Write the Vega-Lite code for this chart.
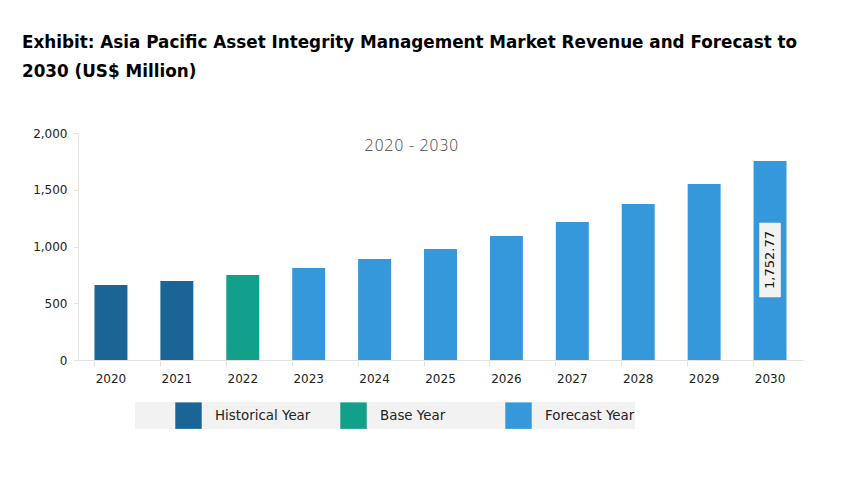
{
  "$schema": "https://vega.github.io/schema/vega-lite/v6.json",
  "width": 725,
  "height": 227,
  "autosize": {"type": "none"},
  "padding": {"left": 78, "top": 133, "right": 58, "bottom": 120},
  "background": "white",
  "title": {
    "text": ["Exhibit: Asia Pacific Asset Integrity Management Market Revenue and Forecast to", "2030 (US$ Million)"],
    "anchor": "start",
    "frame": "group",
    "dx": -56,
    "offset": 46,
    "font": "DejaVu Sans",
    "fontWeight": "bold",
    "fontSize": 16.8,
    "lineHeight": 29,
    "color": "#000000"
  },
  "config": {
    "view": {"stroke": null},
    "font": "DejaVu Sans"
  },
  "data": {
    "values": [
      {"year": "2020", "value": 661, "type": "Historical Year"},
      {"year": "2021", "value": 696, "type": "Historical Year"},
      {"year": "2022", "value": 749, "type": "Base Year"},
      {"year": "2023", "value": 811, "type": "Forecast Year"},
      {"year": "2024", "value": 890, "type": "Forecast Year"},
      {"year": "2025", "value": 978, "type": "Forecast Year"},
      {"year": "2026", "value": 1092, "type": "Forecast Year"},
      {"year": "2027", "value": 1216, "type": "Forecast Year"},
      {"year": "2028", "value": 1374, "type": "Forecast Year"},
      {"year": "2029", "value": 1551, "type": "Forecast Year"},
      {"year": "2030", "value": 1752.77, "type": "Forecast Year"}
    ]
  },
  "encoding": {
    "x": {
      "field": "year",
      "type": "nominal",
      "scale": {"paddingInner": 0.5, "paddingOuter": 0.25},
      "axis": {
        "title": null,
        "labelAngle": 0,
        "labelFont": "DejaVu Sans",
        "labelFontSize": 12,
        "labelColor": "#222222",
        "labelPadding": 7,
        "domainColor": "#e3e3e3",
        "tickColor": "#e3e3e3",
        "tickSize": 6,
        "bandPosition": 0,
        "grid": false
      }
    }
  },
  "layer": [
    {
      "mark": {"type": "bar"},
      "encoding": {
        "y": {
          "field": "value",
          "type": "quantitative",
          "scale": {"domain": [0, 2000]},
          "axis": {
            "title": null,
            "values": [0, 500, 1000, 1500, 2000],
            "format": ",.0f",
            "grid": false,
            "labelFont": "DejaVu Sans",
            "labelFontSize": 12,
            "labelColor": "#222222",
            "labelPadding": 6,
            "domainColor": "#e3e3e3",
            "tickColor": "#e3e3e3",
            "tickSize": 5
          }
        },
        "color": {
          "field": "type",
          "type": "nominal",
          "scale": {
            "domain": ["Historical Year", "Base Year", "Forecast Year"],
            "range": ["#1a6496", "#13a08b", "#3498db"]
          },
          "legend": {
            "title": " ",
            "titleOrient": "left",
            "titlePadding": 40,
            "orient": "none",
            "legendX": 57,
            "legendY": 269,
            "direction": "horizontal",
            "columns": 3,
            "gridAlign": "all",
            "columnPadding": 29,
            "padding": 0,
            "fillColor": "#f2f2f2",
            "symbolType": "square",
            "symbolSize": 700,
            "symbolStrokeWidth": 0,
            "symbolOpacity": 1,
            "labelFont": "DejaVu Sans",
            "labelFontSize": 13.4,
            "labelColor": "#222222",
            "labelOffset": 13,
            "labelLimit": 200
          }
        }
      }
    },
    {
      "transform": [{"filter": "datum.year == '2030'"}],
      "mark": {"type": "bar", "width": 21, "color": "#f2f2f2", "stroke": "#ffffff", "strokeWidth": 0.5},
      "encoding": {
        "y": {"datum": 555},
        "y2": {"datum": 1207}
      }
    },
    {
      "transform": [{"filter": "datum.year == '2030'"}],
      "mark": {"type": "text", "angle": 270, "font": "DejaVu Sans", "fontSize": 13, "color": "#111111", "align": "center", "baseline": "middle"},
      "encoding": {
        "y": {"datum": 881},
        "text": {"field": "value", "type": "quantitative", "format": ",.2f"}
      }
    },
    {
      "transform": [{"filter": "datum.year == '2025'"}],
      "mark": {"type": "text", "font": "DejaVu Sans", "fontSize": 15.5, "fontWeight": 300, "color": "#444444", "align": "center", "baseline": "middle", "dx": -29},
      "encoding": {
        "y": {"datum": 1885},
        "text": {"value": "2020 - 2030"}
      }
    }
  ]
}
